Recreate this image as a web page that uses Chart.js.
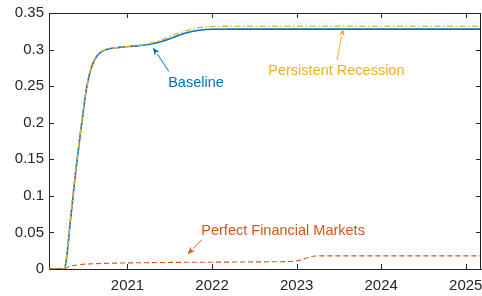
<!DOCTYPE html>
<html>
<head>
<meta charset="utf-8">
<script src="https://cdn.jsdelivr.net/npm/chart.js@4"></script>
<style>
html,body{margin:0;padding:0;background:#fff;}
#wrap{width:482px;height:296px;}
</style>
</head>
<body>
<div id="wrap"><canvas id="c" width="482" height="296"></canvas></div>
<script>
// ---- data ----
const baselineYears = [2020.07, 2020.17, 2020.25, 2020.28, 2020.32, 2020.38, 2020.46, 2020.52, 2020.58, 2020.65, 2020.75, 2020.90, 2021.10, 2021.25, 2021.40, 2021.55, 2021.70, 2021.85, 2022.00, 2022.30, 2023.00, 2024.00, 2025.20];
const baselineValues = [0, 0, 0, 0.015, 0.060, 0.125, 0.200, 0.250, 0.278, 0.293, 0.300, 0.303, 0.305, 0.307, 0.311, 0.317, 0.323, 0.3265, 0.3278, 0.328, 0.328, 0.328, 0.328];

const persistentYears = [2020.07, 2020.17, 2020.25, 2020.28, 2020.32, 2020.38, 2020.46, 2020.52, 2020.58, 2020.65, 2020.75, 2020.90, 2021.10, 2021.25, 2021.40, 2021.55, 2021.70, 2021.85, 2022.00, 2022.30, 2023.00, 2024.00, 2025.20];
const persistentValues = [0, 0, 0, 0.016, 0.062, 0.127, 0.202, 0.251, 0.279, 0.294, 0.300, 0.303, 0.305, 0.308, 0.313, 0.320, 0.326, 0.3300, 0.3315, 0.332, 0.332, 0.332, 0.332];

const perfectYears = [2020.07, 2020.17, 2020.25, 2020.30, 2020.40, 2020.60, 2021.00, 2021.50, 2022.00, 2022.50, 2022.85, 2022.97, 2023.05, 2023.13, 2023.22, 2023.50, 2024.50, 2025.20];
const perfectValues = [0, 0, 0, 0.003, 0.0055, 0.0072, 0.0083, 0.009, 0.0093, 0.0097, 0.0101, 0.0106, 0.0125, 0.0155, 0.0178, 0.018, 0.018, 0.018];

const xTicks = [2021, 2022, 2023, 2024, 2025];
const xTickLabels = ['2021', '2022', '2023', '2024', '2025'];
const yTicks = [0, 0.05, 0.1, 0.15, 0.2, 0.25, 0.3, 0.35];
const yTickLabels = ['0', '0.05', '0.1', '0.15', '0.2', '0.25', '0.3', '0.35'];

const seriesNames = ['Baseline', 'Persistent Recession', 'Perfect Financial Markets'];

// annotation anchors in data units: [textX, textY, tailX, tailY, headX, headY]
const annBaseline = [2021.81, 0.2547, 2021.49, 0.2700, 2021.30, 0.3030];
const annPersistent = [2023.47, 0.2705, 2023.477, 0.2855, 2023.55, 0.3290];
const annPerfect = [2022.84, 0.0525, 2021.88, 0.0402, 2021.71, 0.0200];

const BLUE = 'rgb(0,114,189)';
const ORANGE = 'rgb(237,177,32)';
const RED = 'rgb(217,83,25)';
const AXIS = 'rgb(38,38,38)';
const FONT = '"Liberation Sans", Arial, Helvetica, sans-serif';

const toPts = (xs, ys) => xs.map((x, i) => ({x: x, y: ys[i]}));

const annotations = [
  {name: seriesNames[0], a: annBaseline, color: BLUE},
  {name: seriesNames[1], a: annPersistent, color: ORANGE},
  {name: seriesNames[2], a: annPerfect, color: RED}
];

const boxPlugin = {
  id: 'box',
  afterDraw(chart) {
    const ctx = chart.ctx;
    const ca = chart.chartArea;
    const xs = chart.scales.x, ys = chart.scales.y;
    ctx.save();
    ctx.strokeStyle = AXIS;
    ctx.lineWidth = 1;
    ctx.beginPath();
    // top and right border
    ctx.moveTo(ca.left, ca.top + 0.5); ctx.lineTo(ca.right, ca.top + 0.5);
    ctx.moveTo(ca.right - 0.5, ca.top); ctx.lineTo(ca.right - 0.5, ca.bottom);
    const tl = 5;
    xTicks.forEach(v => {
      const px = Math.round(xs.getPixelForValue(v)) + 0.5;
      ctx.moveTo(px, ca.bottom); ctx.lineTo(px, ca.bottom - tl);
      ctx.moveTo(px, ca.top); ctx.lineTo(px, ca.top + tl);
    });
    yTicks.forEach(v => {
      const py = Math.round(ys.getPixelForValue(v)) + 0.5;
      ctx.moveTo(ca.left, py); ctx.lineTo(ca.left + tl, py);
      ctx.moveTo(ca.right, py); ctx.lineTo(ca.right - tl, py);
    });
    ctx.stroke();

    // annotations
    ctx.font = '14.5px ' + FONT;
    ctx.textAlign = 'center';
    ctx.textBaseline = 'middle';
    annotations.forEach(an => {
      const a = an.a;
      const tx = xs.getPixelForValue(a[0]), ty = ys.getPixelForValue(a[1]);
      const x0 = xs.getPixelForValue(a[2]), y0 = ys.getPixelForValue(a[3]);
      const x1 = xs.getPixelForValue(a[4]), y1 = ys.getPixelForValue(a[5]);
      ctx.fillStyle = an.color;
      ctx.fillText(an.name, tx, ty);
      ctx.strokeStyle = an.color;
      ctx.lineWidth = 1;
      const ang = Math.atan2(y1 - y0, x1 - x0);
      const hl = 8, hw = 3;
      const bx = x1 - hl * Math.cos(ang), by = y1 - hl * Math.sin(ang);
      ctx.beginPath();
      ctx.moveTo(x0, y0); ctx.lineTo(bx, by);
      ctx.stroke();
      ctx.beginPath();
      ctx.moveTo(x1, y1);
      ctx.lineTo(bx + hw * Math.sin(ang), by - hw * Math.cos(ang));
      ctx.lineTo(x1 - hl * 0.7 * Math.cos(ang), y1 - hl * 0.7 * Math.sin(ang));
      ctx.lineTo(bx - hw * Math.sin(ang), by + hw * Math.cos(ang));
      ctx.closePath();
      ctx.fill();
    });
    ctx.restore();
  }
};

new Chart(document.getElementById('c'), {
  type: 'line',
  data: {
    datasets: [
      {label: seriesNames[0], data: toPts(baselineYears, baselineValues), borderColor: BLUE, borderWidth: 1.6, pointRadius: 0, cubicInterpolationMode: 'monotone', order: 3},
      {label: seriesNames[1], data: toPts(persistentYears, persistentValues), borderColor: ORANGE, borderWidth: 1.4, borderDash: [6, 2.5, 1.5, 2.5], pointRadius: 0, cubicInterpolationMode: 'monotone', order: 2},
      {label: seriesNames[2], data: toPts(perfectYears, perfectValues), borderColor: RED, borderWidth: 1.1, borderDash: [5, 3], pointRadius: 0, cubicInterpolationMode: 'monotone', order: 1}
    ]
  },
  options: {
    responsive: false,
    animation: false,
    events: [],
    layout: {padding: {top: 13, right: 1, left: 0, bottom: 0}},
    plugins: {legend: {display: false}, tooltip: {enabled: false}},
    scales: {
      x: {
        type: 'linear',
        min: 2020.072,
        max: 2025.18,
        afterBuildTicks: s => { s.ticks = xTicks.map(v => ({value: v})); },
        afterFit: s => { s.height = 27; s.paddingLeft = 0; s.paddingRight = 0; },
        grid: {display: false, drawTicks: false},
        border: {display: true, color: AXIS, width: 1},
        ticks: {
          color: AXIS, padding: 8, maxRotation: 0, autoSkip: false,
          font: {family: FONT, size: 15},
          callback: (v, i) => xTickLabels[i]
        }
      },
      y: {
        type: 'linear',
        min: 0,
        max: 0.35,
        afterBuildTicks: s => { s.ticks = yTicks.map(v => ({value: v})); },
        afterFit: s => { s.width = 49; s.paddingTop = 0; s.paddingBottom = 0; },
        grid: {display: false, drawTicks: false},
        border: {display: true, color: AXIS, width: 1},
        ticks: {
          color: AXIS, padding: 5, autoSkip: false,
          font: {family: FONT, size: 15},
          callback: (v, i) => yTickLabels[i]
        }
      }
    }
  },
  plugins: [boxPlugin]
});
</script>
</body>
</html>
